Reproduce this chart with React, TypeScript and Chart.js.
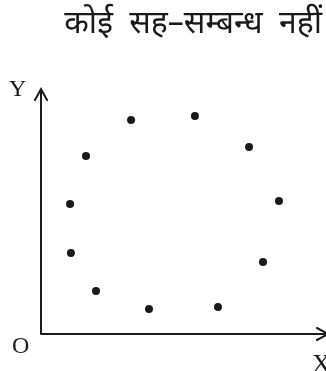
import React, { useEffect, useRef } from "react";
import { Chart, registerables } from "chart.js";

Chart.register(...registerables);

// Scatter points (arbitrary units, both axes 0–10)
const xValues = [3.16, 5.4, 7.3, 8.35, 7.79, 6.21, 3.79, 1.93, 1.05, 1.02, 1.58];
const yValues = [8.73, 8.9, 7.63, 5.43, 2.94, 1.1, 1.02, 1.76, 3.31, 5.31, 7.27];

const titleText = "कोई सह–सम्बन्ध नहीं";
const xAxisLabel = "X";
const yAxisLabel = "Y";
const originLabel = "O";

const INK = "#1a1a1a";

// Draws the two arrowed axes, their letters and the heading
const axesPlugin = {
  id: "arrowAxes",
  afterDraw(chart: any) {
    const { ctx, scales, width } = chart;
    const xs = scales.x;
    const ys = scales.y;
    const x0 = xs.getPixelForValue(0);
    const y0 = ys.getPixelForValue(0);
    const yTop = ys.getPixelForValue(10);
    const xEnd = width + 2;
    ctx.save();
    ctx.strokeStyle = INK;
    ctx.lineWidth = 2;
    ctx.lineCap = "round";
    ctx.beginPath();
    ctx.moveTo(x0, y0);
    ctx.lineTo(x0, yTop);
    ctx.moveTo(x0, y0);
    ctx.lineTo(xEnd, y0);
    // arrow heads
    ctx.moveTo(x0 - 6, yTop + 11);
    ctx.lineTo(x0, yTop);
    ctx.lineTo(x0 + 6, yTop + 11);
    ctx.moveTo(xEnd - 11, y0 - 6);
    ctx.lineTo(xEnd, y0);
    ctx.lineTo(xEnd - 11, y0 + 6);
    ctx.stroke();

    ctx.fillStyle = INK;
    ctx.font = '24px "Liberation Serif", serif';
    ctx.textBaseline = "alphabetic";
    ctx.textAlign = "left";
    ctx.fillText(yAxisLabel, x0 - 32, yTop + 7);
    ctx.fillText(originLabel, x0 - 29, y0 + 19);
    ctx.font = '26px "Liberation Serif", serif';
    ctx.fillText(xAxisLabel, 312, y0 + 38);

    ctx.font = '32px "Noto Sans", sans-serif';
    ctx.textAlign = "right";
    (ctx as any).wordSpacing = "8px";
    ctx.fillText(titleText, 322, 33);
    ctx.restore();
  },
};

export default function App() {
  const ref = useRef<HTMLCanvasElement | null>(null);

  useEffect(() => {
    if (!ref.current) return;
    const chart = new Chart(ref.current, {
      type: "scatter",
      data: {
        datasets: [
          {
            data: xValues.map((x, i) => ({ x, y: yValues[i] })),
            backgroundColor: INK,
            borderColor: INK,
            borderWidth: 0,
            pointRadius: 4,
            pointHoverRadius: 4,
          },
        ],
      },
      options: {
        responsive: false,
        animation: false,
        events: [],
        layout: { autoPadding: false, padding: { left: 41, right: 0, top: 89, bottom: 37 } },
        plugins: { legend: { display: false }, tooltip: { enabled: false }, title: { display: false } },
        scales: {
          x: { type: "linear", min: 0, max: 10, display: false },
          y: { type: "linear", min: 0, max: 10, display: false },
        },
      },
      plugins: [axesPlugin],
    });
    return () => chart.destroy();
  }, []);

  return (
    <div style={{ position: "fixed", left: 0, top: 0, width: 326, height: 371, background: "#fff" }}>
      <canvas ref={ref} width={326} height={371} style={{ display: "block" }} />
    </div>
  );
}
